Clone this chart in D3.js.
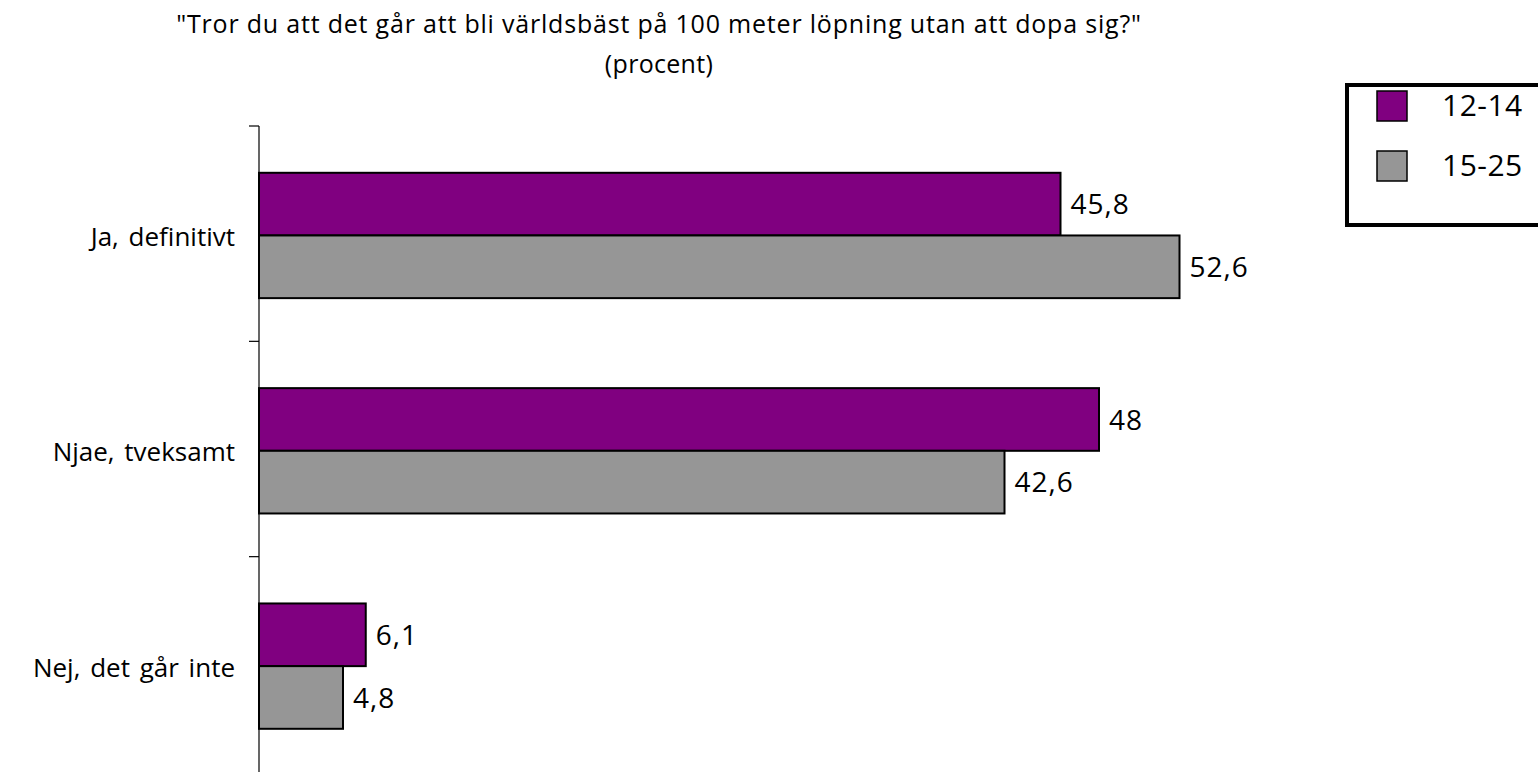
<!DOCTYPE html>
<html>
<head>
<meta charset="utf-8">
<script src="https://cdn.jsdelivr.net/npm/d3@7"></script>
<style>
  html, body { margin: 0; padding: 0; background: #fff; overflow: hidden; }
  svg { display: block; }
  text { font-family: "Open Sans", "DejaVu Sans", sans-serif; fill: #000; }
</style>
</head>
<body>
<svg id="chart" width="1538" height="772"></svg>
<script>
// Survey answers, percent per age group
const categories = ["Ja, definitivt", "Njae, tveksamt", "Nej, det går inte"];
const seriesNames = ["12-14", "15-25"];
const values1214 = [45.8, 48, 6.1];
const values1525 = [52.6, 42.6, 4.8];
const colors = ["#800080", "#969696"];
const titleLines = ["\"Tror du att det går att bli världsbäst på 100 meter löpning utan att dopa sig?\"", "(procent)"];

const svg = d3.select("#chart");
const plotLeft = 259, plotTop = 126, plotBottom = 772;

const x = d3.scaleLinear().domain([0, 60]).range([plotLeft, plotLeft + 1050]);
const y = d3.scaleBand().domain(categories).range([plotTop, plotBottom]).padding(0);
const inner = d3.scaleBand().domain(seriesNames).range([0, y.bandwidth()])
  .paddingInner(0).paddingOuter(0.718).align(0.52);

const fmt = v => String(v).replace(".", ",");

// title
const title = svg.append("g");
titleLines.forEach((t, i) => {
  title.append("text")
    .attr("x", 659).attr("y", 33 + i * 40)
    .attr("text-anchor", "middle")
    .attr("font-size", 25)
    .attr("letter-spacing", i === 0 ? 0.8 : 0.3)
    .text(t);
});

// bars and value labels
const series = [values1214, values1525];
const groups = svg.append("g").selectAll("g")
  .data(categories)
  .join("g")
  .attr("transform", d => `translate(0,${y(d)})`);

seriesNames.forEach((s, si) => {
  groups.append("rect")
    .attr("x", x(0))
    .attr("y", inner(s))
    .attr("width", (d, i) => x(series[si][i]) - x(0))
    .attr("height", inner.bandwidth())
    .attr("fill", colors[si])
    .attr("stroke", "#000")
    .attr("stroke-width", 2);
  groups.append("text")
    .attr("x", (d, i) => x(series[si][i]) + 10)
    .attr("y", inner(s) + inner.bandwidth() / 2)
    .attr("dy", "0.36em")
    .attr("font-size", 28)
    .attr("letter-spacing", 1)
    .text((d, i) => fmt(series[si][i]));
});

// category axis with ticks at band boundaries
const axG = svg.append("g").attr("transform", `translate(${plotLeft},0)`);
axG.append("line").attr("x1", 0).attr("x2", 0).attr("y1", plotTop).attr("y2", plotBottom)
  .attr("stroke", "#000").attr("stroke-width", 1.2);
categories.forEach(c => {
  axG.append("line").attr("x1", -10).attr("x2", 0)
    .attr("y1", y(c)).attr("y2", y(c)).attr("stroke", "#000").attr("stroke-width", 1.2);
});
categories.forEach(c => {
  svg.append("text")
    .attr("x", 235)
    .attr("y", y(c) + y.bandwidth() / 2 + 3)
    .attr("dy", "0.36em")
    .attr("text-anchor", "end")
    .attr("font-size", 26)
    .attr("word-spacing", 3)
    .text(c);
});

// legend
const lg = svg.append("g");
lg.append("rect").attr("x", 1347).attr("y", 85).attr("width", 200).attr("height", 140)
  .attr("fill", "#fff").attr("stroke", "#000").attr("stroke-width", 4);
seriesNames.forEach((s, i) => {
  lg.append("rect").attr("x", 1377).attr("y", 91 + i * 60).attr("width", 30).attr("height", 30)
    .attr("fill", colors[i]).attr("stroke", "#000").attr("stroke-width", 1.5);
  lg.append("text").attr("x", 1442).attr("y", 105 + i * 60).attr("dy", "0.36em")
    .attr("font-size", 30).attr("letter-spacing", 0.5).text(s);
});
</script>
</body>
</html>
